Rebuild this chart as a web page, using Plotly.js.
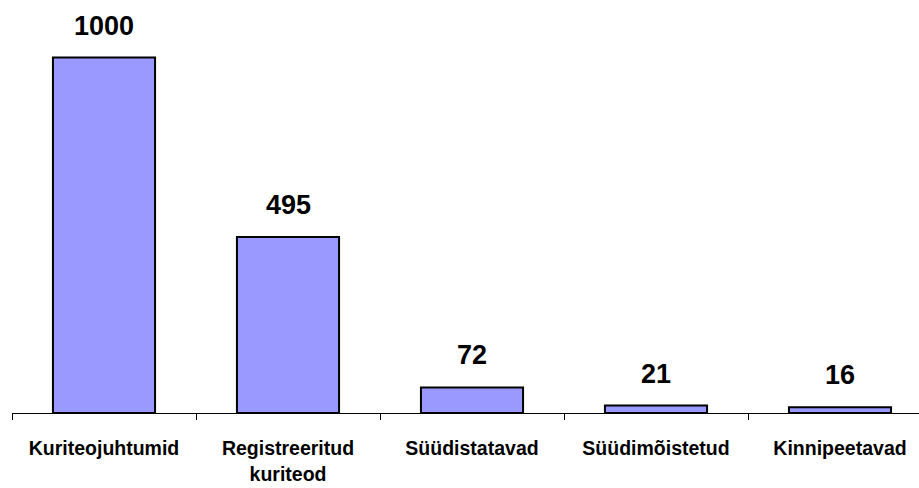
<!DOCTYPE html>
<html><head><meta charset="utf-8">
<script src="https://cdn.plot.ly/plotly-3.0.1.min.js"></script>
<style>html,body{margin:0;padding:0;overflow:hidden;background:#fff;width:919px;height:488px}</style>
</head><body><div id="chart" style="width:932px;height:488px"></div>
<script>
const categories = ["Kuriteojuhtumid", "Registreeritud<br>kuriteod", "Süüdistatavad", "Süüdimõistetud", "Kinnipeetavad"];
const values = [1000, 495, 72, 21, 16];
const valueLabels = ["1000", "495", "72", "21", "16"];

const labelFont = {family: "'Liberation Sans Narrow', 'Arial Narrow', 'Liberation Sans', Arial, sans-serif", size: 19.5, color: "#000", weight: 700};
const valueFont = {family: "'Liberation Sans', Arial, sans-serif", size: 27, color: "#000", weight: 700};

const trace = {
  type: "bar",
  x: categories,
  y: values,
  marker: {color: "#9999FF", line: {color: "#000", width: 2}},
  hoverinfo: "none"
};

const annotations = categories.map((c, i) => ({
  x: c, y: values[i], xref: "x", yref: "y",
  text: "<b>" + valueLabels[i] + "</b>",
  showarrow: false, yanchor: "bottom", yshift: 15,
  font: valueFont
}));

const layout = {
  width: 932, height: 488,
  margin: {l: 12, r: 0, t: 20, b: 75},
  paper_bgcolor: "#fff", plot_bgcolor: "#fff",
  bargap: 0.445,
  showlegend: false,
  xaxis: {
    type: "category",
    showline: true, linecolor: "#000", linewidth: 1,
    ticks: "outside", tickson: "boundaries", ticklen: 6, tickcolor: "#000", tickwidth: 1,
    tickfont: labelFont, ticklabelstandoff: 18,
    showgrid: false, zeroline: false
  },
  yaxis: {
    range: [0, 1105.5],
    visible: false, showgrid: false, zeroline: false
  },
  annotations: annotations
};

Plotly.newPlot("chart", [trace], layout, {staticPlot: true, displayModeBar: false});
</script></body></html>
